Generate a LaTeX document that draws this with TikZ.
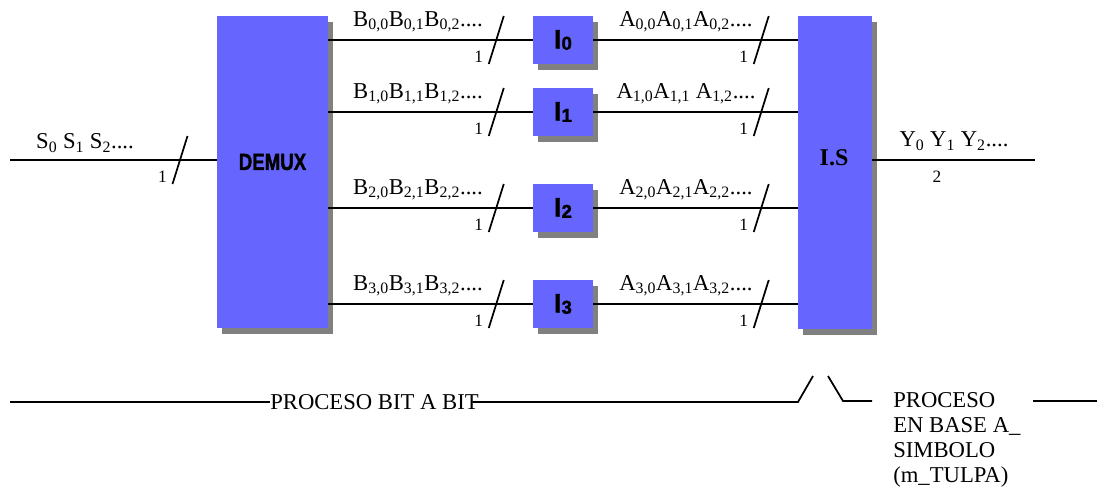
\documentclass[tikz,border=0pt]{standalone}
\usepackage{fontspec}
\setmainfont{Liberation Serif}
\setsansfont{Liberation Sans}
\newfontfamily\heavyfont{Liberation Sans}[BoldFeatures={FakeBold=1.6}]
\usetikzlibrary{calc,shadows}
\definecolor{boxblue}{HTML}{6666FF}
\definecolor{shadowgray}{HTML}{808080}
% interleaver label: big bold I with a small digit
\newcommand{\ilabel}[1]{{\heavyfont\bfseries\fontsize{20}{20}\selectfont
    I}{\heavyfont\bfseries\fontsize{14}{14}\selectfont\raisebox{-1pt}{#1}}}
\begin{document}
\begin{tikzpicture}[x=0.75pt, y=-0.75pt,
    block/.style={fill=boxblue, inner sep=0pt, general shadow={fill=shadowgray,
        shadow xshift=3.75pt, shadow yshift=-4.5pt}},
    wire/.style={line width=1.3pt},
    lbl/.style={font=\fontsize{17}{17}\selectfont, inner sep=0pt},
    num/.style={font=\fontsize{13}{13}\selectfont, inner sep=0pt},
    busmark/.pic={\draw[wire] (7.5,-24) -- (-7.5,24);
      \node[num] at (-17.5,17) {1};}]
  \useasboundingbox (0,0) rectangle (1109,497);
  % blocks
  \node[block, minimum width=83.25pt, minimum height=234pt] (demux) at (272.5,172) {};
  \node[font=\heavyfont\bfseries\fontsize{14}{14}\selectfont] (demuxtxt) at (272.5,162)
    {\scalebox{1}[1.25]{DEMUX}};
  \node[block, minimum width=55.5pt, minimum height=234.75pt] (is) at (835,172.5) {};
  \node[font=\bfseries\fontsize{18}{18}\selectfont] (istxt) at (834,158) {I.S};
  \foreach \r/\y in {0/40,1/112,2/208,3/304}
    \node[block, minimum width=45pt, minimum height=36pt] (i\r) at (563,\y) {\ilabel{\r}};
  % bit streams between the blocks
  \foreach \r in {0,...,3} {
    \draw[wire] (demux.east |- i\r) -- (i\r.west);
    \draw[wire] (i\r.east) -- (is.west |- i\r);
    \pic at ($(demux.east |- i\r)+(168,0)$) {busmark};
    \pic at ($(is.west |- i\r)+(-36.5,0)$) {busmark};
  }
  \node[lbl] (b0) at (418,22) {B\textsubscript{0,0}B\textsubscript{0,1}B\textsubscript{0,2}....};
  \node[lbl] (b1) at (418,94) {B\textsubscript{1,0}B\textsubscript{1,1}B\textsubscript{1,2}....};
  \node[lbl] (b2) at (418,190) {B\textsubscript{2,0}B\textsubscript{2,1}B\textsubscript{2,2}....};
  \node[lbl] (b3) at (418,286) {B\textsubscript{3,0}B\textsubscript{3,1}B\textsubscript{3,2}....};
  \node[lbl] (a0) at (686,22) {A\textsubscript{0,0}A\textsubscript{0,1}A\textsubscript{0,2}....};
  \node[lbl] (a1) at (686,94) {A\textsubscript{1,0}A\textsubscript{1,1} A\textsubscript{1,2}....};
  \node[lbl] (a2) at (686,190) {A\textsubscript{2,0}A\textsubscript{2,1}A\textsubscript{2,2}....};
  \node[lbl] (a3) at (686,286) {A\textsubscript{3,0}A\textsubscript{3,1}A\textsubscript{3,2}....};
  % input and output
  \coordinate (sin) at (10,160); \coordinate (yout) at (1035,160);
  \draw[wire] (sin) -- (demux.west |- sin);
  \pic at (180,160) {busmark};
  \node[lbl] (stxt) at (85,143) {S\textsubscript{0} S\textsubscript{1} S\textsubscript{2}....};
  \draw[wire] (is.east |- yout) -- (yout);
  \node[lbl] (ytxt) at (954,141) {Y\textsubscript{0} Y\textsubscript{1} Y\textsubscript{2}....};
  \node[num] (ynum) at (937,177) {2};
  % bottom bracket
  \node[lbl] (bitp) at (374.5,402) {PROCESO BIT A BIT};
  \coordinate (p0) at (10,402); \coordinate (p1) at (798,402);
  \coordinate (p2) at (813,376); \coordinate (p3) at (828,376);
  \coordinate (p4) at (843,401); \coordinate (p5) at (872,401);
  \coordinate (p6) at (1033,401); \coordinate (p7) at (1097,401);
  \draw[wire] (p0) -- (bitp.west);
  \draw[wire] ([xshift=-5pt]bitp.east) -- (p1) -- (p2);
  \draw[wire] (p3) -- (p4) -- (p5);
  \draw[wire] (p6) -- (p7);
  \node[lbl, anchor=north west, align=left, font=\fontsize{17}{18.75}\selectfont]
    (simb) at (893,392) {PROCESO\\EN BASE A\_\\SIMBOLO\\(m\_TULPA)};
\end{tikzpicture}
\end{document}
